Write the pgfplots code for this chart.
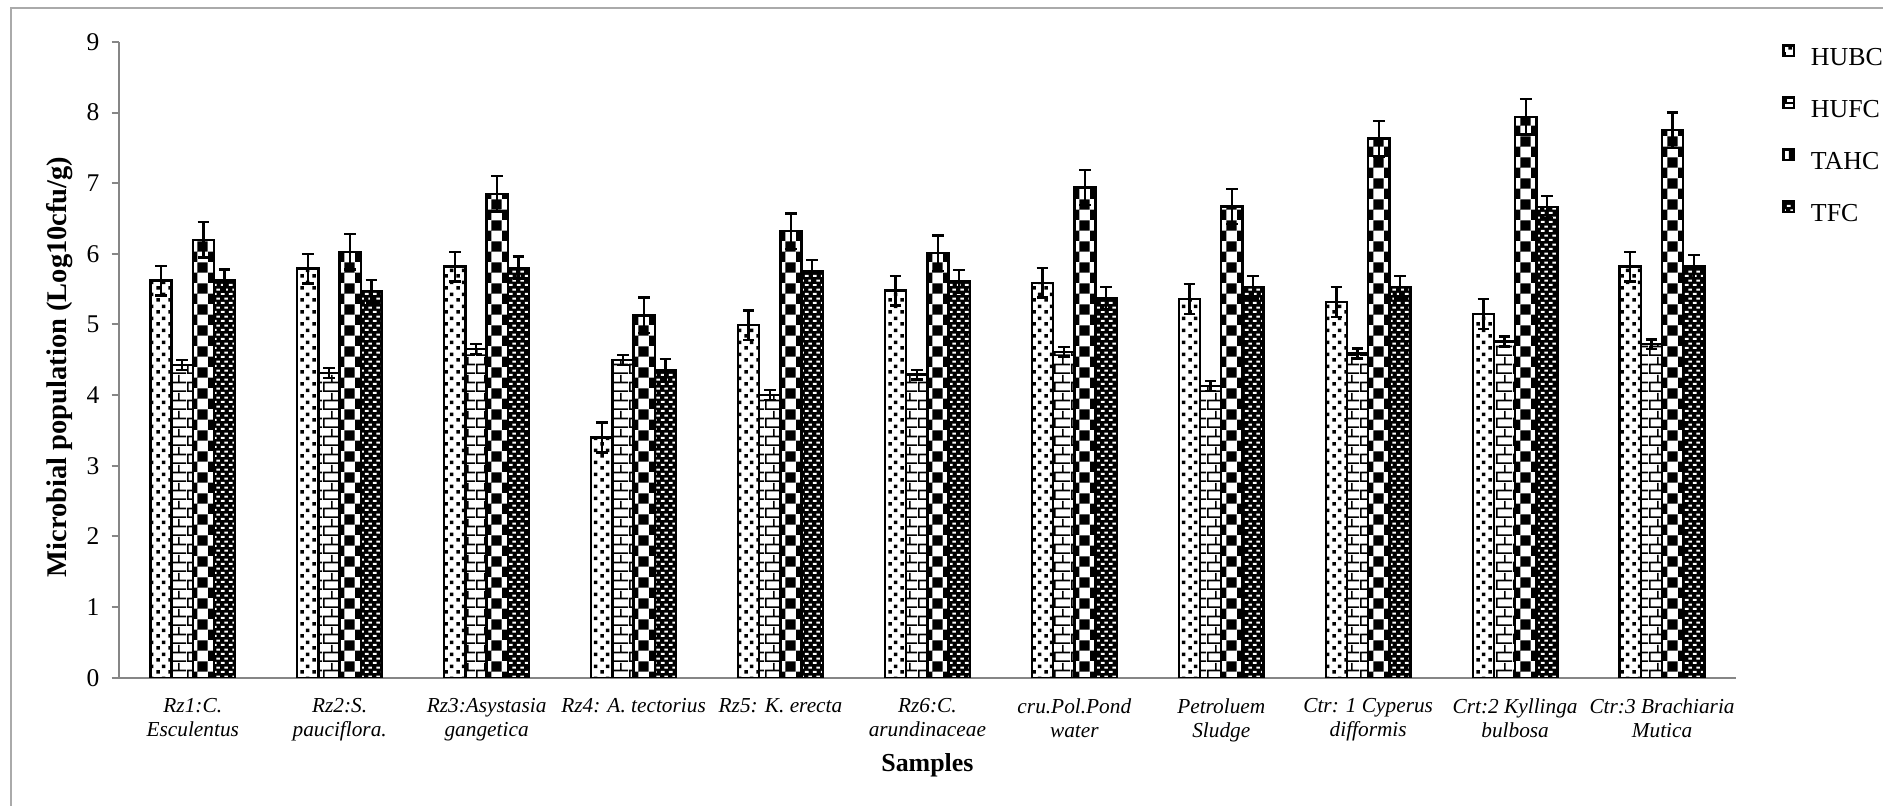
\documentclass[border=0pt]{standalone}
\usepackage{pgfplots}
\pgfplotsset{compat=1.18}
\usepackage{pgfplotstable}
\usepackage{fontspec}
\setmainfont{Liberation Serif}
\usetikzlibrary{patterns}

\pgfdeclarepatternformonly{hubcdots}{\pgfpoint{0bp}{0bp}}{\pgfpoint{6bp}{6bp}}{\pgfpoint{6bp}{6bp}}{%
  \pgfpathrectangle{\pgfpoint{0.2bp}{0.2bp}}{\pgfpoint{1.9bp}{1.9bp}}%
  \pgfpathrectangle{\pgfpoint{3.2bp}{3.2bp}}{\pgfpoint{1.9bp}{1.9bp}}%
  \pgfusepath{fill}}
\pgfdeclarepatternformonly{hufcbricks}{\pgfpoint{0bp}{0bp}}{\pgfpoint{8.5bp}{9bp}}{\pgfpoint{8.5bp}{9bp}}{%
  \pgfpathrectangle{\pgfpoint{0bp}{0bp}}{\pgfpoint{8.5bp}{0.9bp}}%
  \pgfpathrectangle{\pgfpoint{0bp}{4.5bp}}{\pgfpoint{8.5bp}{0.9bp}}%
  \pgfpathrectangle{\pgfpoint{0bp}{0bp}}{\pgfpoint{0.9bp}{4.5bp}}%
  \pgfpathrectangle{\pgfpoint{4.25bp}{4.5bp}}{\pgfpoint{0.9bp}{4.5bp}}%
  \pgfusepath{fill}}
\pgfdeclarepatternformonly{tahcchecker}{\pgfpoint{0bp}{0bp}}{\pgfpoint{10.4bp}{10.4bp}}{\pgfpoint{10.4bp}{10.4bp}}{%
  \pgfpathrectangle{\pgfpoint{0bp}{0bp}}{\pgfpoint{5.2bp}{5.2bp}}%
  \pgfpathrectangle{\pgfpoint{5.2bp}{5.2bp}}{\pgfpoint{5.2bp}{5.2bp}}%
  \pgfusepath{fill}}
\pgfdeclarepatternformonly{tfcdashes}{\pgfpoint{0bp}{0bp}}{\pgfpoint{3.8bp}{4.4bp}}{\pgfpoint{3.8bp}{4.4bp}}{%
  \pgfpathrectangle{\pgfpoint{0.4bp}{0.6bp}}{\pgfpoint{2bp}{1bp}}%
  \pgfpathrectangle{\pgfpoint{2.3bp}{2.8bp}}{\pgfpoint{2bp}{1bp}}%
  \pgfusepath{fill}}

\definecolor{axisgray}{RGB}{134,134,134}
\definecolor{framegray}{RGB}{170,170,170}

% columns: x, value, error
\pgfplotstableread{
x y e
0 5.62 0.21
1 5.79 0.21
2 5.82 0.21
3 3.40 0.21
4 4.99 0.21
5 5.48 0.21
6 5.59 0.21
7 5.36 0.21
8 5.32 0.21
9 5.15 0.21
10 5.82 0.21
}\hubc
\pgfplotstableread{
x y e
0 4.43 0.07
1 4.31 0.07
2 4.65 0.07
3 4.50 0.07
4 4.00 0.07
5 4.29 0.07
6 4.61 0.07
7 4.13 0.07
8 4.59 0.07
9 4.76 0.07
10 4.72 0.07
}\hufc
\pgfplotstableread{
x y e
0 6.20 0.25
1 6.03 0.25
2 6.85 0.25
3 5.13 0.25
4 6.32 0.25
5 6.01 0.25
6 6.94 0.25
7 6.67 0.25
8 7.63 0.25
9 7.94 0.25
10 7.75 0.25
}\tahc
\pgfplotstableread{
x y e
0 5.62 0.16
1 5.47 0.16
2 5.80 0.16
3 4.35 0.16
4 5.75 0.16
5 5.61 0.16
6 5.37 0.16
7 5.53 0.16
8 5.53 0.16
9 6.66 0.16
10 5.82 0.16
}\tfc

\begin{document}
\begin{tikzpicture}
\path[use as bounding box] (0bp,0bp) rectangle (941.5bp,-403bp);
\draw[framegray, line width=1bp] (5.5bp,-403bp) -- (5.5bp,-4bp) -- (941.5bp,-4bp);
\begin{axis}[
  at={(59.65bp,-338.85bp)}, anchor=south west,
  scale only axis, width=808.1bp, height=317.9bp,
  ybar=0pt, bar width=10.6bp,
  xmin=-0.5, xmax=10.5, ymin=0, ymax=9,
  axis x line=bottom, axis y line=left,
  axis line style={axisgray, line width=1bp, -},
  xtick=data, xtick style={draw=none},
  xticklabels={{Rz1:C.\\Esculentus},{Rz2:S.\\pauciflora.},{Rz3:Asystasia\\gangetica},{Rz4: A. tectorius},{Rz5: K. erecta},{Rz6:C.\\arundinaceae},{cru.Pol.Pond\\water},{Petroluem\\Sludge},{Ctr: 1 Cyperus\\difformis},{Crt:2 Kyllinga\\bulbosa},{Ctr:3 Brachiaria\\Mutica}},
  xticklabel style={align=center, anchor=north, inner sep=0pt, yshift=-6.5bp, font=\fontsize{10.7}{11.8}\selectfont\itshape},
  ytick={0,1,...,9},
  tick align=outside, major tick length=3.8bp,
  ytick style={axisgray, line width=1bp},
  yticklabel style={font=\fontsize{12.8}{14}\selectfont, anchor=east, inner sep=0pt, xshift=-6bp},
  /pgf/number format/assume math mode=true,
  xlabel={\textbf{Samples}},
  xlabel style={font=\fontsize{13}{15}\selectfont, at={(axis description cs:0.5,-0.137)}, anchor=center},
  ylabel={\textbf{Microbial population (Log10cfu/g)}},
  ylabel style={font=\fontsize{14.3}{16}\selectfont, at={(axis description cs:-0.0367,0.489)}, anchor=center, rotate=0},
  legend style={at={(axis description cs:1.0286,0.997)}, anchor=north west, draw=none, fill=none, inner sep=0pt, row sep=12.8bp,
     font=\fontsize{13}{15}\selectfont,
     nodes={inner sep=0pt, text height=9.2bp, text depth=2.8bp},
     /tikz/every odd column/.append style={column sep=8bp}},
  legend cell align=left,
  legend image code/.code={\draw[#1, line width=1.2bp] (0bp,1.4bp) rectangle (5.2bp,6.6bp);},
  error bars/y dir=both, error bars/y explicit,
  error bars/error mark options={rotate=90, mark size=2.9bp, line width=1.2bp, black},
  error bars/error bar style={line width=1.2bp, black},
  every axis plot/.append style={draw=black, line width=1.2bp},
]
\addplot[draw=black, fill=white, postaction={pattern=hubcdots, pattern color=black}] table[x=x, y=y, y error=e] {\hubc};
\addplot[draw=black, fill=white, postaction={pattern=hufcbricks, pattern color=black}] table[x=x, y=y, y error=e] {\hufc};
\addplot[draw=black, fill=white, postaction={pattern=tahcchecker, pattern color=black}] table[x=x, y=y, y error=e] {\tahc};
\addplot[draw=black, fill=black, postaction={pattern=tfcdashes, pattern color=white}] table[x=x, y=y, y error=e] {\tfc};
\legend{HUBC,HUFC,TAHC,TFC}
\end{axis}
\end{tikzpicture}
\end{document}
